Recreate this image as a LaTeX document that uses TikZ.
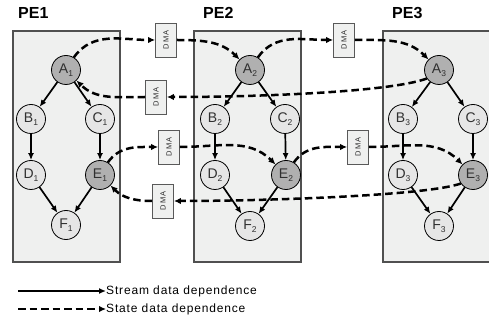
\documentclass[tikz,border=0pt]{standalone}
\usepackage{fontspec}
\usepackage{graphicx}
\setmainfont{Liberation Sans}
\newfontfamily\legfont[LetterSpace=7]{Liberation Sans}
\usetikzlibrary{arrows.meta}
\definecolor{boxfill}{HTML}{EFF0EF}
\definecolor{boxline}{HTML}{505050}
\definecolor{lightnode}{HTML}{E6E6E6}
\definecolor{darknode}{HTML}{B0B0B0}
\definecolor{labeltext}{HTML}{303030}
\newcommand\tlab[2]{#1\raisebox{-0.45ex}{\fontsize{8.5}{8.5}\selectfont #2}}
\newcommand\dmatext{\rotatebox{90}{\fontsize{7.5}{7.5}\selectfont D\kern1.2pt M\kern1.2pt A}}
\begin{document}
\begin{tikzpicture}[x=1pt,y=-1pt,
  pe/.style={draw=boxline, fill=boxfill, line width=1.1pt},
  task/.style={circle, draw=black, line width=0.8pt, minimum size=29pt, inner sep=0pt,
    font=\fontsize{14}{14}\selectfont, text=labeltext},
  light/.style={task, fill=lightnode},
  dark/.style={task, fill=darknode},
  dma/.style={draw=black!65, fill=boxfill, line width=0.8pt, minimum width=21pt,
    minimum height=34pt, inner sep=0pt, text=labeltext},
  stream/.style={line width=1.7pt, -{Latex[length=7pt,width=6pt]}},
  state/.style={line width=2.5pt, dash pattern=on 7.5pt off 4pt, -{Latex[length=7pt,width=6.5pt]}},
  pelabel/.style={font=\fontsize{16}{16}\selectfont\bfseries, anchor=west, inner sep=0pt},
  legtext/.style={font=\legfont\fontsize{12}{12}\selectfont, anchor=west, inner sep=0pt}
]
\useasboundingbox (0,0) rectangle (489,328);
\fill[white] (0,0) rectangle (489,328);

% PE boxes
\draw[pe] (13,31) rectangle (120,262);
\draw[pe] (194,31) rectangle (301,262);
\begin{scope}
\clip (0,0) rectangle (489,328);
\draw[pe] (383,31) rectangle (495,262);
\end{scope}

\node[pelabel] (pe1) at (18,13) {PE1};
\node[pelabel] (pe2) at (203,13) {PE2};
\node[pelabel] (pe3) at (392,13) {PE3};

% PE1 tasks
\node[dark]  (A1) at (66,70)  {\tlab{A}{1}};
\node[light] (B1) at (31,119) {\tlab{B}{1}};
\node[light] (C1) at (100,119) {\tlab{C}{1}};
\node[light] (D1) at (31,175) {\tlab{D}{1}};
\node[dark]  (E1) at (100,175) {\tlab{E}{1}};
\node[light] (F1) at (66,225) {\tlab{F}{1}};
% PE2 tasks
\node[dark]  (A2) at (250,70)  {\tlab{A}{2}};
\node[light] (B2) at (215,119) {\tlab{B}{2}};
\node[light] (C2) at (285,119) {\tlab{C}{2}};
\node[light] (D2) at (215,175) {\tlab{D}{2}};
\node[dark]  (E2) at (286,175) {\tlab{E}{2}};
\node[light] (F2) at (250,226) {\tlab{F}{2}};
% PE3 tasks
\node[dark]  (A3) at (439,70)  {\tlab{A}{3}};
\node[light] (B3) at (403,119) {\tlab{B}{3}};
\node[light] (C3) at (473,119) {\tlab{C}{3}};
\node[light] (D3) at (403,175) {\tlab{D}{3}};
\node[dark]  (E3) at (473,175) {\tlab{E}{3}};
\node[light] (F3) at (439,226) {\tlab{F}{3}};

% stream edges
\foreach \i in {1,2,3} {
  \draw[stream] (A\i) -- (B\i);
  \draw[stream] (A\i) -- (C\i);
  \draw[stream] (B\i) -- (D\i);
  \draw[stream] (C\i) -- (E\i);
  \draw[stream] (D\i) -- (F\i);
  \draw[stream] (E\i) -- (F\i);
}

% DMA boxes
\node[dma] (dA12) at (166,40)  {\dmatext};
\node[dma] (dA31) at (156,97)  {\dmatext};
\node[dma] (dA23) at (344,40)  {\dmatext};
\node[dma] (dE12) at (169,147) {\dmatext};
\node[dma] (dE31) at (163,201) {\dmatext};
\node[dma] (dE23) at (358,147) {\dmatext};

% state edges
\draw[state] (A1.58) to[out=55,in=180] (dA12.west);
\draw[state] (dA12.east) to[out=0,in=135] (A2.135);
\draw[state] (A2.58) to[out=55,in=180] (dA23.west);
\draw[state] (dA23.east) to[out=0,in=135] (A3.135);
\draw[state] (A3.215) .. controls (390,92) and (260,97) .. (dA31.east);
\draw[state] (dA31.west) to[out=180,in=-45] (A1.-45);

\draw[state] (E1.58) to[out=55,in=180] (dE12.west);
\draw[state] (dE12.east) to[out=0,in=135] (E2.135);
\draw[state] (E2.58) to[out=55,in=180] (dE23.west);
\draw[state] (dE23.east) to[out=0,in=135] (E3.135);
\draw[state] (E3.215) .. controls (425,196) and (260,201) .. (dE31.east);
\draw[state] (dE31.west) to[out=180,in=-45] (E1.-45);

% legend
\coordinate (l1a) at (18,291);
\coordinate (l1b) at (106,291);
\coordinate (l2a) at (18,309);
\coordinate (l2b) at (106,309);
\draw[stream,line width=1.4pt] (l1a) -- (l1b);
\draw[state,line width=1.8pt] (l2a) -- (l2b);
\node[legtext] (t1) at (l1b) {Stream data dependence};
\node[legtext] (t2) at (l2b) {State data dependence};
\end{tikzpicture}
\end{document}
